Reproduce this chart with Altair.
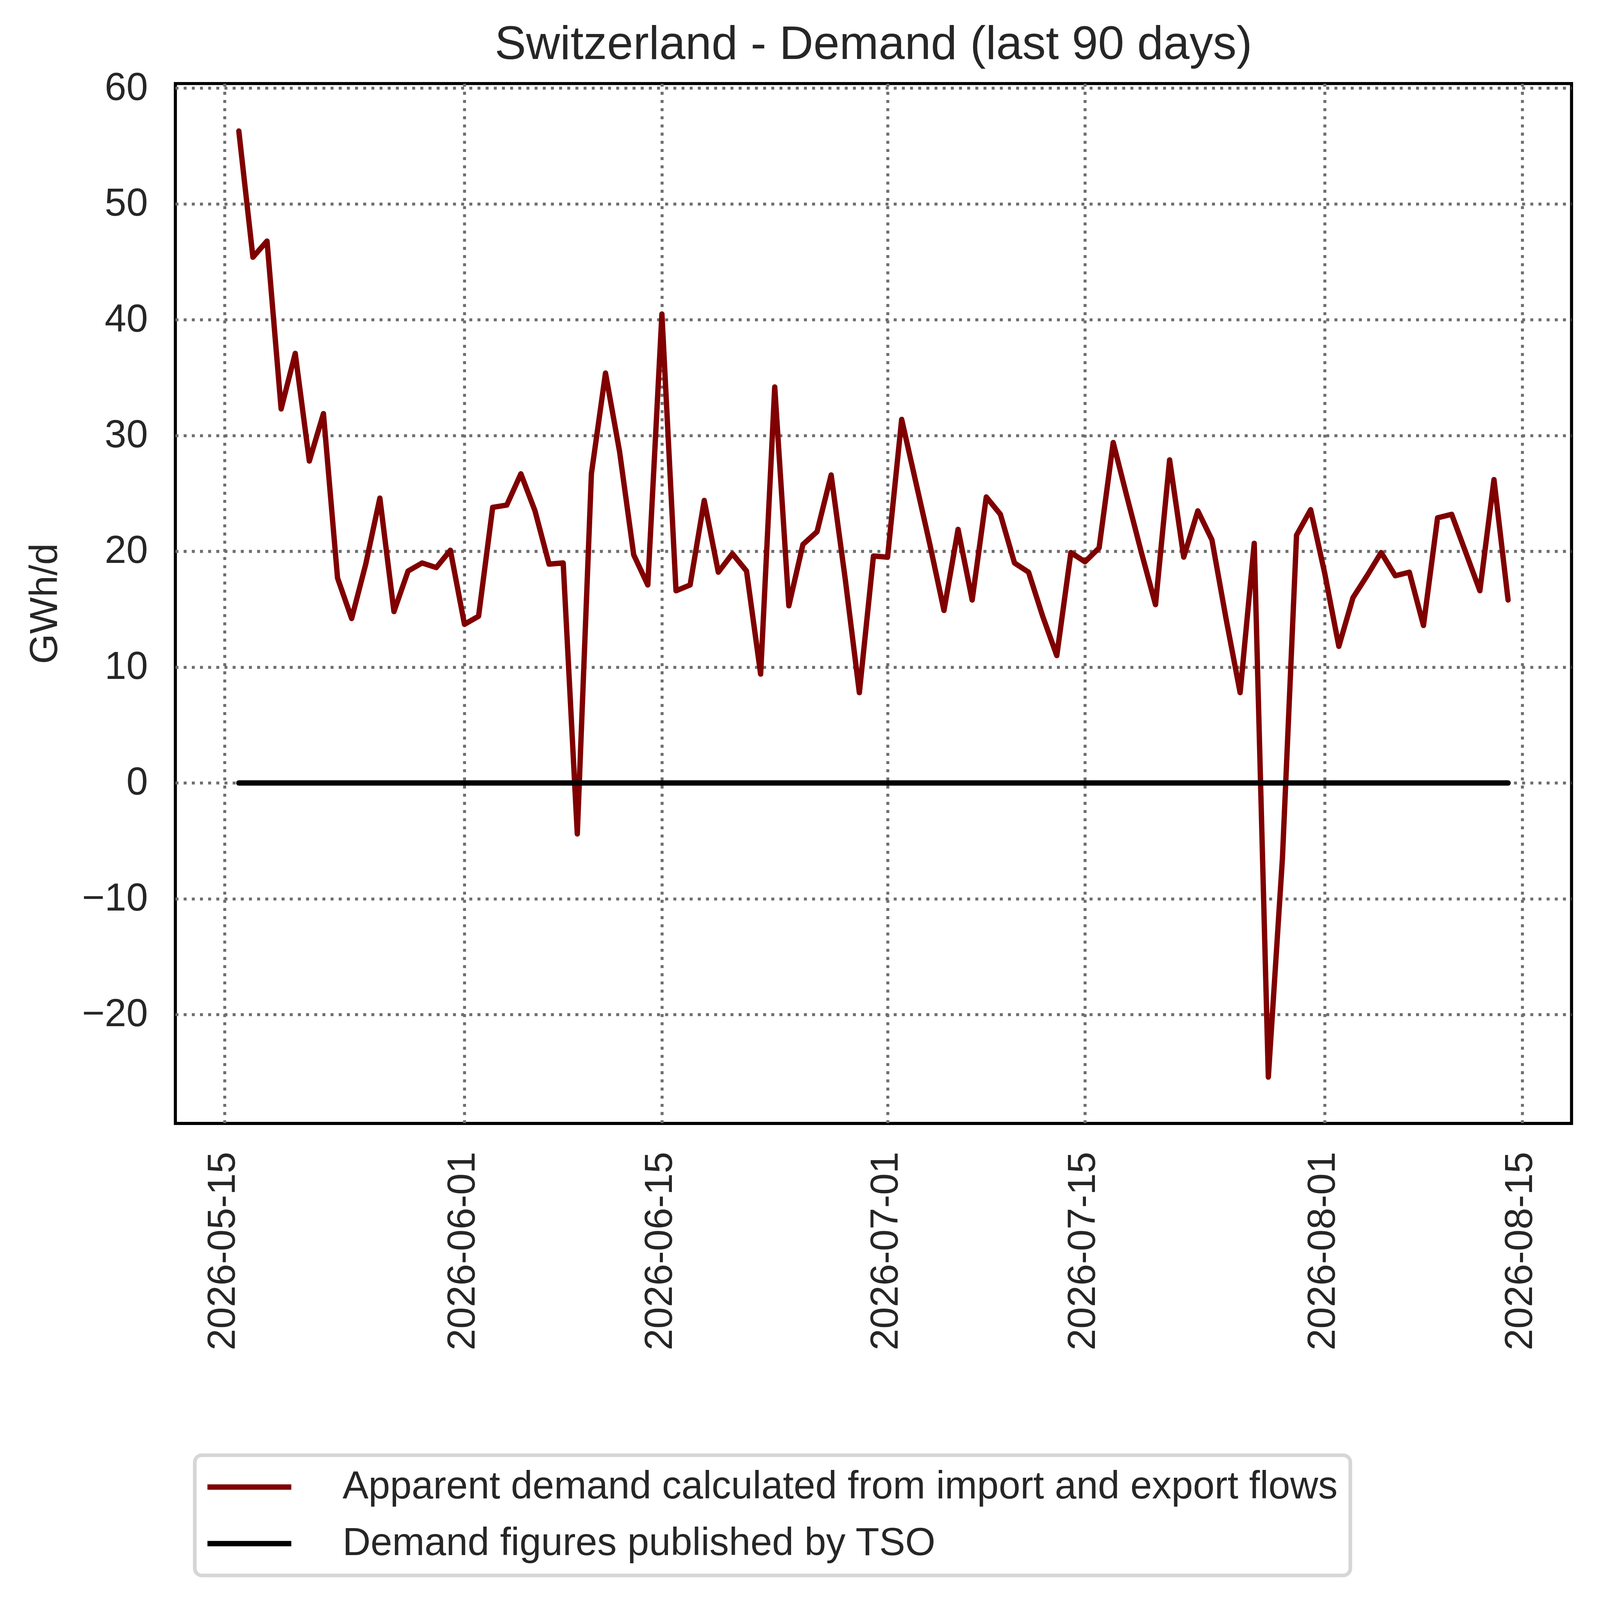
import altair as alt
import pandas as pd

# ---- data ----
dates = pd.date_range("2026-05-16", "2026-08-14", freq="D").strftime("%Y-%m-%d").tolist()

apparent = [
    56.3, 45.4, 46.8, 32.3, 37.1, 27.8, 31.9, 17.7, 14.2, 18.9,   # 05-16 .. 05-25
    24.6, 14.8, 18.3, 19.0, 18.6, 20.1,                           # 05-26 .. 05-31
    13.7, 14.4, 23.8, 24.0, 26.7, 23.5, 18.9, 19.0, -4.4, 26.7,   # 06-01 .. 06-10
    35.4, 28.6, 19.7, 17.1, 40.5, 16.6, 17.1, 24.4, 18.2, 19.8,   # 06-11 .. 06-20
    18.3, 9.4, 34.2, 15.3, 20.6, 21.7, 26.6, 17.6, 7.8, 19.6,     # 06-21 .. 06-30
    19.5, 31.4, 26.0, 20.6, 14.9, 21.9, 15.8, 24.7, 23.2, 19.0,   # 07-01 .. 07-10
    18.2, 14.4, 11.0, 19.9, 19.1, 20.3, 29.4, 24.6, 19.9, 15.4,   # 07-11 .. 07-20
    27.9, 19.5, 23.5, 21.0, 14.2, 7.8, 20.7, -25.4, -6.5, 21.4,   # 07-21 .. 07-30
    23.6,                                                          # 07-31
    18.1, 11.8, 16.0, 17.9, 19.9, 17.9, 18.2, 13.6, 22.9, 23.2,   # 08-01 .. 08-10
    19.9, 16.6, 26.2, 15.8,                                        # 08-11 .. 08-14
]

tso = [
    0, 0, 0, 0, 0, 0, 0, 0, 0, 0, 0, 0, 0, 0, 0, 0,
    0, 0, 0, 0, 0, 0, 0, 0, 0, 0, 0, 0, 0, 0, 0, 0, 0, 0, 0, 0, 0, 0, 0, 0, 0, 0, 0, 0, 0, 0,
    0, 0, 0, 0, 0, 0, 0, 0, 0, 0, 0, 0, 0, 0, 0, 0, 0, 0, 0, 0, 0, 0, 0, 0, 0, 0, 0, 0, 0, 0, 0,
    0, 0, 0, 0, 0, 0, 0, 0, 0, 0, 0, 0, 0, 0,
]

series_names = [
    "Apparent demand calculated from import and export flows",
    "Demand figures published by TSO",
]
series_colors = ["#800000", "#000000"]

y_ticks = [-20, -10, 0, 10, 20, 30, 40, 50, 60]
x_tick_days = [(2026, 5, 15), (2026, 6, 1), (2026, 6, 15), (2026, 7, 1),
               (2026, 7, 15), (2026, 8, 1), (2026, 8, 15)]

df = pd.DataFrame({
    "date": dates + dates,
    "value": apparent + tso,
    "series": [series_names[0]] * len(dates) + [series_names[1]] * len(dates),
})

FONT = "Liberation Sans"
TXT = "#262626"

x_values = [alt.DateTime(year=y, month=m, date=d, utc=True) for (y, m, d) in x_tick_days]

base = (
    alt.Chart(df)
    .mark_line(strokeWidth=19, strokeCap="round", strokeJoin="round")
    .encode(
        x=alt.X(
            "date:T",
            scale=alt.Scale(
                type="utc",
                domain=[
                    alt.DateTime(year=2026, month=5, date=11, hours=12, utc=True),
                    alt.DateTime(year=2026, month=8, date=18, hours=12, utc=True),
                ],
            ),
            axis=alt.Axis(
                title=None,
                values=x_values,
                labelExpr="utcFormat(datum.value, '%Y-%m-%d')",
                labelAngle=270,
                labelAlign="right",
                labelBaseline="middle",
                labelPadding=100,
                labelOffset=-6,
                labelOverlap=False,
                labelLimit=2000,
            ),
        ),
        y=alt.Y(
            "value:Q",
            scale=alt.Scale(domain=[-29.4, 60.4], nice=False, zero=False),
            axis=alt.Axis(
                title="GWh/d",
                values=y_ticks,
                labelPadding=98,
                labelAlign="right",
                labelBaseline="middle",
                labelLimit=2000,
                titlePadding=192,
            ),
        ),
        color=alt.Color(
            "series:N",
            scale=alt.Scale(domain=series_names, range=series_colors),
            sort=series_names,
            legend=alt.Legend(
                title=None,
                orient="none",
                legendX=69,
                legendY=4874,
                symbolType="M-3,0H3",
                symbolSize=9867,
                symbolStrokeWidth=19,
                symbolOffset=81,
                labelOffset=262,
                labelFont=FONT,
                labelFontSize=138,
                labelColor=TXT,
                labelLimit=6000,
                padding=44,
                rowPadding=63,
                strokeColor="#d6d6d6",
                fillColor="#ffffff",
                cornerRadius=25,
            ),
        ),
    )
)


def finish(pad_top, pad_bottom):
    return (
        base.properties(
            width=4961,
            height=3695,
            padding={"left": 612, "top": pad_top, "right": 90, "bottom": pad_bottom},
            autosize="none",
            background="#ffffff",
            title=alt.TitleParams(
                text="Switzerland - Demand (last 90 days)",
                font=FONT,
                fontSize=167,
                fontWeight="normal",
                color=TXT,
                anchor="middle",
                frame="group",
                offset=0,
            ),
        )
        .configure_view(stroke="#000000", strokeWidth=11, fill="#ffffff")
        .configure_axis(
            domain=False,
            ticks=False,
            tickSize=0,
            grid=True,
            gridColor="#6e6e6e",
            gridDash=[10.5, 18.5],
            gridWidth=10.5,
            labelFont=FONT,
            labelFontSize=138,
            labelColor=TXT,
            titleFont=FONT,
            titleFontSize=138,
            titleColor=TXT,
            titleFontWeight="normal",
        )
        .configure_legend(strokeWidth=13)
    )


# The renderer places the plot about 1118 px below the requested top padding,
# so the top padding is reduced by that amount to put the plot where it belongs.
try:
    chart = finish(-821, 2831)
    chart.save("out.html", embed_options={"renderer": "svg", "actions": False})
except Exception:
    chart = finish(297, 1713)
    chart.save("out.html", embed_options={"renderer": "svg", "actions": False})
